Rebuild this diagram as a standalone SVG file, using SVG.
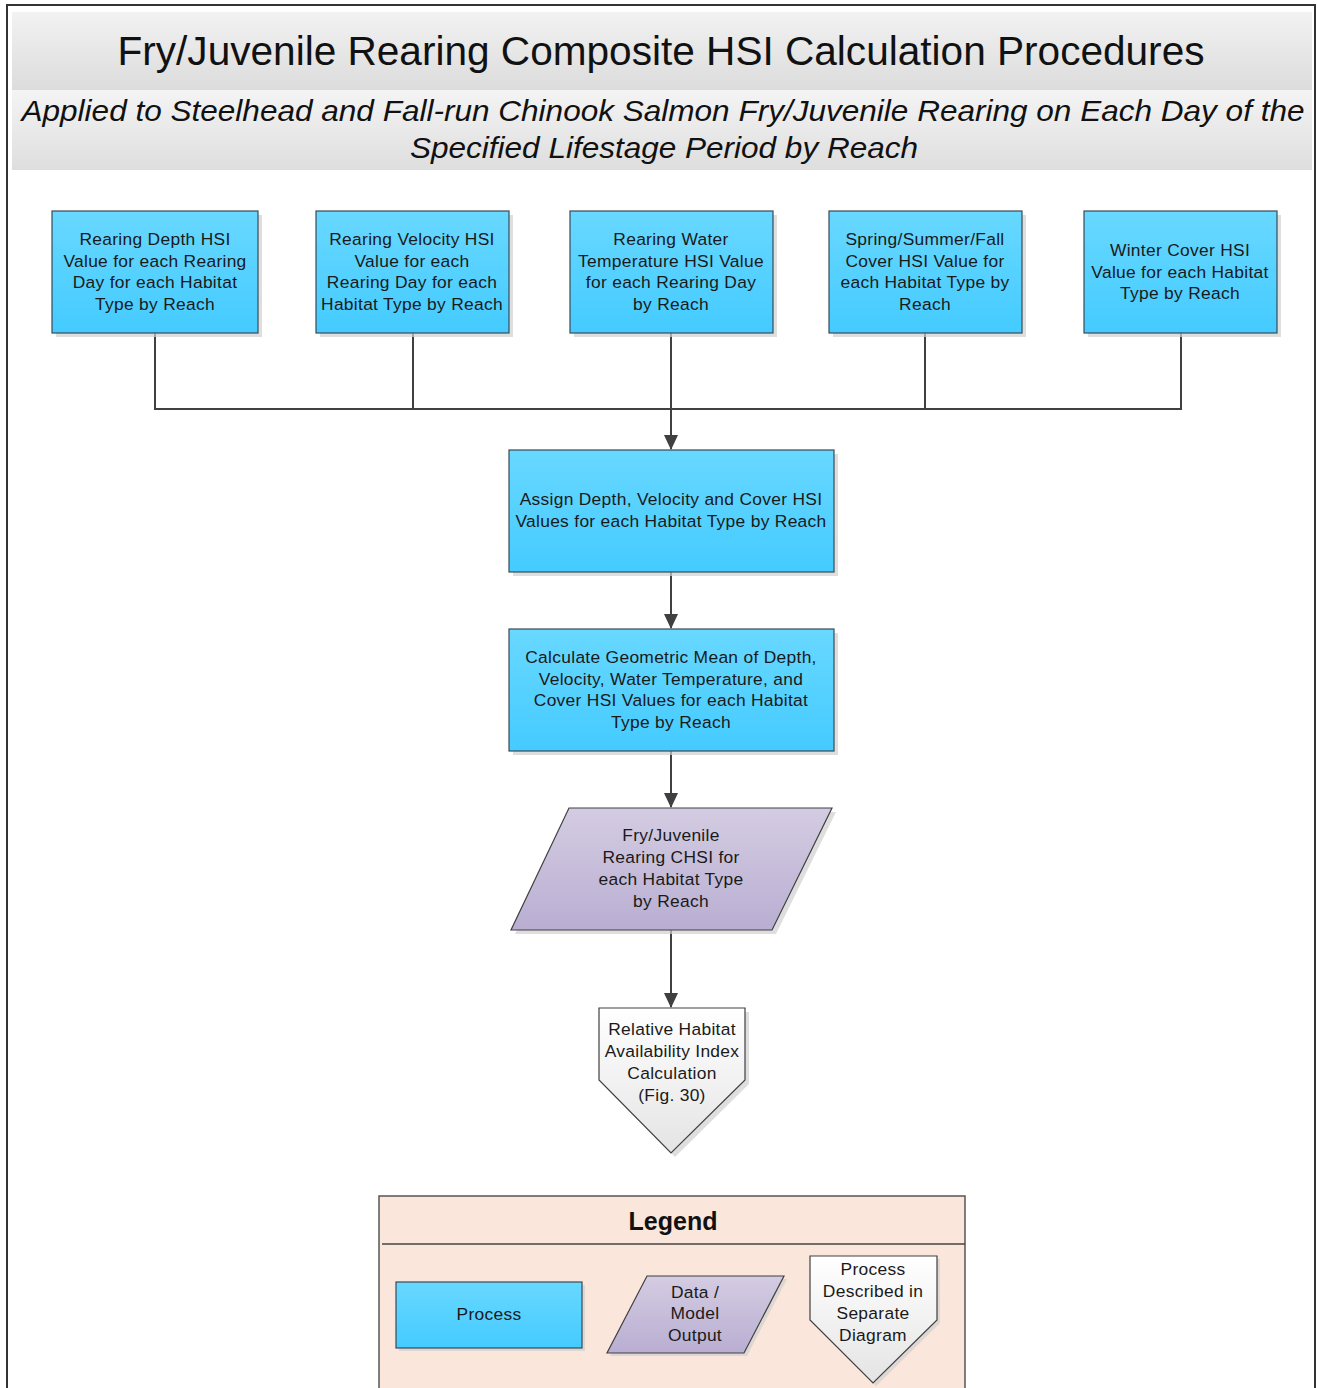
<svg xmlns="http://www.w3.org/2000/svg" width="1318" height="1388" viewBox="0 0 1318 1388">
<defs>
<linearGradient id="gProc" x1="0" y1="0" x2="0" y2="1"><stop offset="0" stop-color="#68D8FF"/><stop offset="1" stop-color="#44CBFF"/></linearGradient>
<linearGradient id="gData" x1="0" y1="0" x2="0" y2="1"><stop offset="0" stop-color="#D4CCE2"/><stop offset="1" stop-color="#B9AED2"/></linearGradient>
<linearGradient id="gOff" x1="0" y1="0" x2="0" y2="1"><stop offset="0" stop-color="#FFFFFF"/><stop offset="1" stop-color="#E4E4E4"/></linearGradient>
<linearGradient id="gTitle" x1="0" y1="0" x2="0" y2="1"><stop offset="0" stop-color="#F2F2F2"/><stop offset="1" stop-color="#DCDCDC"/></linearGradient>
<linearGradient id="gSub" x1="0" y1="0" x2="0" y2="1"><stop offset="0" stop-color="#F4F4F4"/><stop offset="1" stop-color="#DEDEDE"/></linearGradient>
<marker id="arr" markerWidth="15" markerHeight="14" refX="14" refY="7" orient="auto" markerUnits="userSpaceOnUse"><path d="M0,0 L15,7 L0,14 z" fill="#404040"/></marker>
</defs>
<style>
.t{font-family:"Liberation Sans",Arial,sans-serif;font-size:17.4px;fill:#1a1a1a;text-anchor:middle;letter-spacing:0.3px}
.proc{fill:url(#gProc);stroke:#3a4a55;stroke-width:1.2}
.data{fill:url(#gData);stroke:#404040;stroke-width:1.2}
.off{fill:url(#gOff);stroke:#404040;stroke-width:1.2}
.sh{fill:#d0d0d0;opacity:0.7}
.con{fill:none;stroke:#404040;stroke-width:2}
</style>
<rect x="0" y="0" width="1318" height="1388" fill="#ffffff"/>
<rect x="7" y="5" width="1308" height="1390" fill="#ffffff" stroke="#333333" stroke-width="2"/>
<g id="title">
<rect x="12" y="12" width="1300" height="78" fill="url(#gTitle)"/>
<text x="661" y="65" textLength="1087" lengthAdjust="spacingAndGlyphs" style="font-family:'Liberation Sans',Arial,sans-serif;font-size:40px;fill:#111;text-anchor:middle">Fry/Juvenile Rearing Composite HSI Calculation Procedures</text>
</g>
<g id="subtitle">
<rect x="12" y="90" width="1300" height="80" fill="url(#gSub)"/>
<text style="font-family:'Liberation Sans',Arial,sans-serif;font-size:30px;font-style:italic;fill:#111;text-anchor:middle"><tspan x="663" y="121" textLength="1283" lengthAdjust="spacingAndGlyphs">Applied to Steelhead and Fall-run Chinook Salmon Fry/Juvenile Rearing on Each Day of the</tspan></text>
<text style="font-family:'Liberation Sans',Arial,sans-serif;font-size:30px;font-style:italic;fill:#111;text-anchor:middle"><tspan x="664" y="158" textLength="508" lengthAdjust="spacingAndGlyphs">Specified Lifestage Period by Reach</tspan></text>
</g>
<g id="connectors">
<path class="con" d="M155,333 V409 H1181 V333"/>
<path class="con" d="M413,333 V409"/>
<path class="con" d="M671,333 V409"/>
<path class="con" d="M925,333 V409"/>
<path class="con" d="M671,409 V449" marker-end="url(#arr)"/>
<path class="con" d="M671,572 V628" marker-end="url(#arr)"/>
<path class="con" d="M671,751 V807" marker-end="url(#arr)"/>
<path class="con" d="M671,930 V1007" marker-end="url(#arr)"/>
</g>
<g id="n1">
<rect class="sh" x="56" y="215" width="206" height="122"/>
<rect class="proc" x="52" y="211" width="206" height="122"/>
<text class="t"><tspan x="155" y="245">Rearing Depth HSI</tspan><tspan x="155" y="267">Value for each Rearing</tspan><tspan x="155" y="288">Day for each Habitat</tspan><tspan x="155" y="310">Type by Reach</tspan></text>
</g>
<g id="n2">
<rect class="sh" x="320" y="215" width="193" height="122"/>
<rect class="proc" x="316" y="211" width="193" height="122"/>
<text class="t"><tspan x="412" y="245">Rearing Velocity HSI</tspan><tspan x="412" y="267">Value for each</tspan><tspan x="412" y="288">Rearing Day for each</tspan><tspan x="412" y="310">Habitat Type by Reach</tspan></text>
</g>
<g id="n3">
<rect class="sh" x="574" y="215" width="203" height="122"/>
<rect class="proc" x="570" y="211" width="203" height="122"/>
<text class="t"><tspan x="671" y="245">Rearing Water</tspan><tspan x="671" y="267">Temperature HSI Value</tspan><tspan x="671" y="288">for each Rearing Day</tspan><tspan x="671" y="310">by Reach</tspan></text>
</g>
<g id="n4">
<rect class="sh" x="833" y="215" width="193" height="122"/>
<rect class="proc" x="829" y="211" width="193" height="122"/>
<text class="t"><tspan x="925" y="245">Spring/Summer/Fall</tspan><tspan x="925" y="267">Cover HSI Value for</tspan><tspan x="925" y="288">each Habitat Type by</tspan><tspan x="925" y="310">Reach</tspan></text>
</g>
<g id="n5">
<rect class="sh" x="1088" y="215" width="193" height="122"/>
<rect class="proc" x="1084" y="211" width="193" height="122"/>
<text class="t"><tspan x="1180" y="256">Winter Cover HSI</tspan><tspan x="1180" y="278">Value for each Habitat</tspan><tspan x="1180" y="299">Type by Reach</tspan></text>
</g>
<g id="n6">
<rect class="sh" x="513" y="454" width="325" height="122"/>
<rect class="proc" x="509" y="450" width="325" height="122"/>
<text class="t"><tspan x="671" y="505">Assign Depth, Velocity and Cover HSI</tspan><tspan x="671" y="527">Values for each Habitat Type by Reach</tspan></text>
</g>
<g id="n7">
<rect class="sh" x="513" y="633" width="325" height="122"/>
<rect class="proc" x="509" y="629" width="325" height="122"/>
<text class="t"><tspan x="671" y="663">Calculate Geometric Mean of Depth,</tspan><tspan x="671" y="685">Velocity, Water Temperature, and</tspan><tspan x="671" y="706">Cover HSI Values for each Habitat</tspan><tspan x="671" y="728">Type by Reach</tspan></text>
</g>
<g id="n8">
<polygon class="sh" points="573,812 836,812 776,934 515,934"/>
<polygon class="data" points="569,808 832,808 772,930 511,930"/>
<text class="t"><tspan x="671" y="841">Fry/Juvenile</tspan><tspan x="671" y="863">Rearing CHSI for</tspan><tspan x="671" y="885">each Habitat Type</tspan><tspan x="671" y="907">by Reach</tspan></text>
</g>
<g id="n9">
<polygon class="sh" points="603,1012 749,1012 749,1084 675,1157 603,1084"/>
<polygon class="off" points="599,1008 745,1008 745,1080 671,1153 599,1080"/>
<text class="t"><tspan x="672" y="1035">Relative Habitat</tspan><tspan x="672" y="1057">Availability Index</tspan><tspan x="672" y="1079">Calculation</tspan><tspan x="672" y="1101">(Fig. 30)</tspan></text>
</g>
<g id="legend">
<rect x="379" y="1196" width="586" height="200" fill="#FAE6DA" stroke="#555555" stroke-width="1.5"/>
<line x1="382" y1="1244" x2="965" y2="1244" stroke="#444444" stroke-width="1.5"/>
<text x="673" y="1230" style="font-family:'Liberation Sans',Arial,sans-serif;font-size:25px;font-weight:bold;fill:#111;text-anchor:middle">Legend</text>
<g id="leg-process">
<rect class="sh" x="399" y="1285" width="186" height="66"/>
<rect class="proc" x="396" y="1282" width="186" height="66"/>
<text class="t" x="489" y="1320">Process</text>
</g>
<g id="leg-data">
<polygon class="sh" points="650,1279 787,1279 747,1356 610,1356"/>
<polygon class="data" points="647,1276 784,1276 744,1353 607,1353"/>
<text class="t"><tspan x="695" y="1298">Data /</tspan><tspan x="695" y="1319">Model</tspan><tspan x="695" y="1341">Output</tspan></text>
</g>
<g id="leg-offpage">
<polygon class="sh" points="813,1259 940,1259 940,1323 876,1386 813,1323"/>
<polygon class="off" points="810,1256 937,1256 937,1320 873,1383 810,1320"/>
<text class="t"><tspan x="873" y="1275">Process</tspan><tspan x="873" y="1297">Described in</tspan><tspan x="873" y="1319">Separate</tspan><tspan x="873" y="1341">Diagram</tspan></text>
</g>
</g>
</svg>
